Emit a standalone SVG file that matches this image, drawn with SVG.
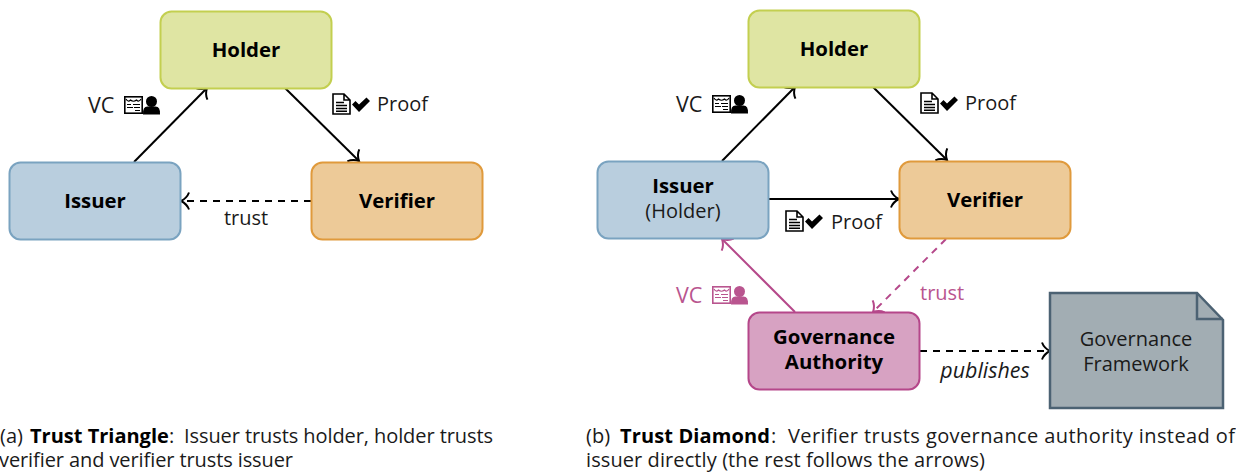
<svg xmlns="http://www.w3.org/2000/svg" width="1236" height="473" viewBox="0 0 1236 473">
<style>
text{font-family:"Open Sans","Noto Sans","Liberation Sans",sans-serif;font-size:20px;fill:#1a1a1a}
.t{font-weight:700;text-anchor:middle;fill:#000;font-size:20.400px}
.l{text-anchor:start}
.m{text-anchor:middle}
.vc{font-size:21.500px}
.box{stroke-width:2}
.h{fill:#dfe5a3;stroke:#c3cf50}
.i{fill:#b9cede;stroke:#7aa3c0}
.v{fill:#edca98;stroke:#e09a3c}
.g{fill:#d7a2c2;stroke:#b5478a}
.c{fill:none;stroke:#000;stroke-width:2}
.p{stroke:#b5488a}
.d{stroke-dasharray:7 6}
.pk{fill:#b9558f}
.b{font-weight:700;fill:#000}
</style>
<defs>
<marker id="a" markerUnits="userSpaceOnUse" markerWidth="14" markerHeight="20" refX="10" refY="9" orient="auto" overflow="visible"><path d="M2 0.500Q4 6 10 9Q4 12 2 17.500" fill="none" stroke="#000" stroke-width="2"/></marker>
<marker id="ap" markerUnits="userSpaceOnUse" markerWidth="14" markerHeight="20" refX="10" refY="9" orient="auto" overflow="visible"><path d="M2 0.500Q4 6 10 9Q4 12 2 17.500" fill="none" stroke="#b5488a" stroke-width="2"/></marker>
<g id="vcicon">
<rect x="0.800" y="0.800" width="17.400" height="16.400" fill="none" stroke="currentColor" stroke-width="1.600"/>
<path d="M2 3Q4 6.500 6.500 4Q9.500 6.500 12.500 4Q15 6.500 17 3M3 8.500h4M9 8.500h7M3 11.500h6M10 11.500h6M11 14.500h5" fill="none" stroke="currentColor" stroke-width="1.200"/>
<circle cx="27.500" cy="5.500" r="5.500" fill="currentColor"/>
<path d="M19 18.500Q18.500 10.500 23.500 10.500h8Q36.500 10.500 36 18.500Z" fill="currentColor"/>
</g>
<g id="pf">
<path d="M1 1H12L18 7V21H1Z M12 1V7H18" fill="none" stroke="currentColor" stroke-width="1.600"/>
<path d="M4 9.500h8M4 12.500h11M4 15.500h11M4 18.200h11" stroke="currentColor" stroke-width="1.400"/>
<path d="M20 11.500L23.500 8L27 11.500L34.500 4.500L38 8L27 19Z" fill="currentColor"/>
</g>
</defs>

<g id="connectors">
<path class="c" marker-end="url(#a)" d="M134 162L207 88"/>
<path class="c" marker-end="url(#a)" d="M285 88L359 161"/>
<path class="c d" marker-end="url(#a)" d="M311 201H181"/>
<path class="c" marker-end="url(#a)" d="M722 161L795 87"/>
<path class="c" marker-end="url(#a)" d="M873 87L947 160"/>
<path class="c" marker-end="url(#a)" d="M769 199H899"/>
<path class="c p" marker-end="url(#ap)" d="M795 312L722 239"/>
<path class="c p d" marker-end="url(#ap)" d="M946 239L873 312"/>
<path class="c d" marker-end="url(#a)" d="M920 351H1050"/>
</g>

<g id="holder-a"><rect class="box h" x="160.500" y="11.500" width="171" height="77" rx="11"/><text class="t" x="246" y="57">Holder</text></g>
<g id="issuer-a"><rect class="box i" x="9.500" y="162.500" width="171" height="77" rx="11"/><text class="t" x="95" y="208">Issuer</text></g>
<g id="verifier-a"><rect class="box v" x="311.500" y="162.500" width="171" height="77" rx="11"/><text class="t" x="397" y="208">Verifier</text></g>

<g id="holder-b"><rect class="box h" x="748.500" y="10.500" width="171" height="77" rx="11"/><text class="t" x="834" y="56">Holder</text></g>
<g id="issuer-b"><rect class="box i" x="597.500" y="161.500" width="171" height="77" rx="11"/><text class="t" x="683" y="193">Issuer<tspan x="683" y="218" style="font-weight:400;fill:#1a1a1a;font-size:20px">(Holder)</tspan></text></g>
<g id="verifier-b"><rect class="box v" x="899.500" y="161.500" width="171" height="77" rx="11"/><text class="t" x="985" y="207">Verifier</text></g>
<g id="authority"><rect class="box g" x="748.500" y="312.500" width="171" height="77" rx="11"/><text class="t" x="834" y="344">Governance<tspan x="834" y="369">Authority</tspan></text></g>
<g id="framework"><path d="M1050 293H1197L1223 320V408H1050Z" fill="#a2adb3" stroke="#4c6273" stroke-width="2.500"/><path d="M1197 293V319H1223" fill="none" stroke="#4c6273" stroke-width="2.500"/><text class="m" x="1136" y="346">Governance<tspan x="1136" y="371">Framework</tspan></text></g>

<g id="labels">
<text class="l vc" x="88" y="113">VC</text>
<use href="#vcicon" x="124" y="96" color="#000"/>
<use href="#pf" x="332" y="93" color="#000"/>
<text class="l" x="377" y="111">Proof</text>
<text class="m" x="246" y="225">trust</text>
<text class="l vc" x="676" y="112">VC</text>
<use href="#vcicon" x="712" y="95" color="#000"/>
<use href="#pf" x="920" y="92" color="#000"/>
<text class="l" x="965" y="110">Proof</text>
<use href="#pf" x="785" y="210" color="#000"/>
<text class="l" x="831" y="229">Proof</text>
<text class="l pk vc" x="676" y="303">VC</text>
<use href="#vcicon" x="712" y="286" color="#b9558f"/>
<text class="l pk" x="920" y="300">trust</text>
<text class="m" x="985" y="378" font-style="italic" style="font-size:21.400px">publishes</text>
</g>

<g id="captions">
<text x="0" y="443">(a) <tspan class="b" x="30">Trust Triangle</tspan><tspan x="169">:</tspan> <tspan x="184" textLength="309">Issuer trusts holder, holder trusts</tspan><tspan x="-1" y="467" textLength="294">verifier and verifier trusts issuer</tspan></text>
<text x="586" y="443">(b) <tspan class="b" x="620" textLength="150">Trust Diamond</tspan><tspan x="771">:</tspan> <tspan x="788" textLength="447">Verifier trusts governance authority instead of</tspan><tspan x="586" y="467" textLength="399">issuer directly (the rest follows the arrows)</tspan></text>
</g>
</svg>
